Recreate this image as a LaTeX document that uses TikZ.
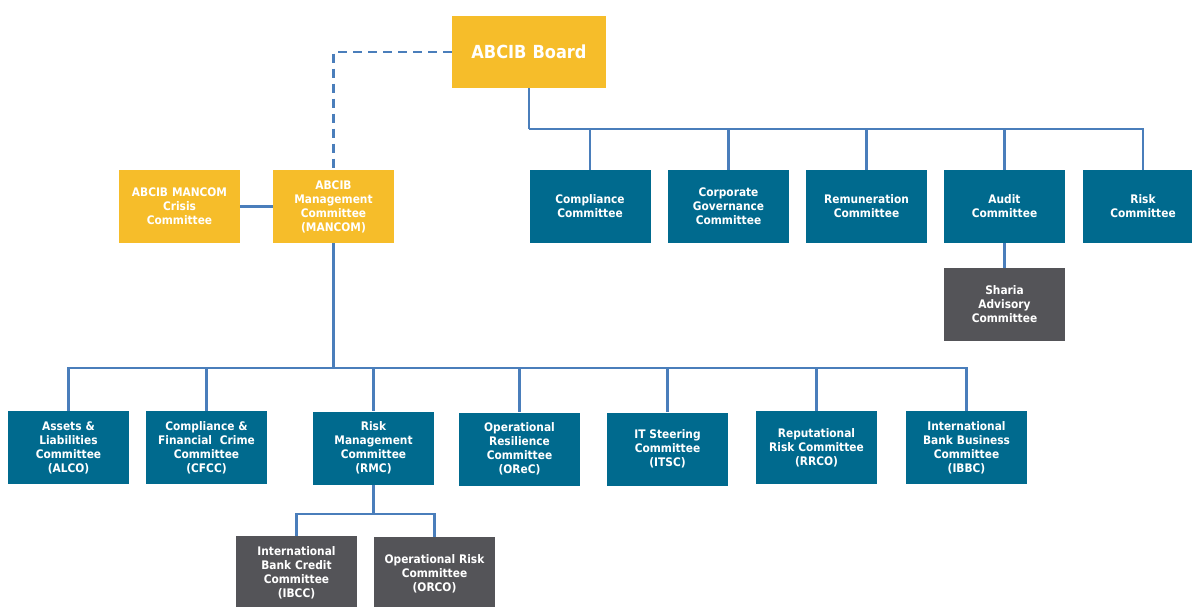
\documentclass[tikz,border=0pt]{standalone}
\usepackage{fontspec}
\setmainfont{DejaVu Sans Condensed}
\usepackage{xcolor}
\definecolor{boardGold}{HTML}{F6BD2A}
\definecolor{cttTeal}{HTML}{006A8E}
\definecolor{subGrey}{HTML}{545458}
\definecolor{linkBlue}{HTML}{4A7EBB}
\newcommand{\cttFont}{\fontsize{11.8}{14}\selectfont\bfseries}

\begin{document}
\begin{tikzpicture}[x=1pt,y=-1pt,
  cttbox/.style={fill=cttTeal, text=white, align=center, inner sep=1pt,
    minimum width=121pt, minimum height=73pt, text width=119pt, font=\cttFont},
  goldbox/.style={cttbox, fill=boardGold},
  greybox/.style={cttbox, fill=subGrey},
  link/.style={draw=linkBlue, line width=2.4pt},
  dashlink/.style={link, dash pattern=on 9pt off 6pt}]
\useasboundingbox (0,0) rectangle (1192,606);
% board and management
\node[goldbox, minimum width=154pt, minimum height=72pt, font={\fontsize{18}{20}\selectfont\bfseries}] (board) at (529,52) {ABCIB Board};
\node[goldbox] (crisis) at (179.5,206.5) {ABCIB MANCOM\\Crisis\\Committee};
\node[goldbox] (mancom) at (333.5,206.5) {ABCIB\\Management\\Committee\\(MANCOM)};
% board committees
\node[cttbox] (comp) at (590,206.5) {Compliance\\Committee};
\node[cttbox] (corpgov) at (728.5,206.5) {Corporate\\Governance\\Committee};
\node[cttbox] (remun) at (866.5,206.5) {Remuneration\\Committee};
\node[cttbox] (audit) at (1004.5,206.5) {Audit\\Committee};
\node[cttbox] (risk) at (1143,206.5) {Risk\\Committee};
\node[greybox] (sharia) at (1004.5,304.5) {Sharia\\Advisory\\Committee};
% management committees
\node[cttbox] (alco) at (68.5,447.5) {Assets \&\\Liabilities\\Committee\\(ALCO)};
\node[cttbox] (cfcc) at (206.5,447.5) {Compliance \&\\Financial\ \ Crime\\Committee\\(CFCC)};
\node[cttbox] (rmc) at (373.5,448) {Risk\\Management\\Committee\\(RMC)};
\node[cttbox] (orec) at (519.5,449) {Operational\\Resilience\\Committee\\(OReC)};
\node[cttbox] (itsc) at (667.5,449) {IT Steering\\Committee\\(ITSC)};
\node[cttbox] (rrco) at (816.5,447.5) {Reputational\\Risk Committee\\(RRCO)};
\node[cttbox] (ibbc) at (966.5,447.5) {International\\Bank Business\\Committee\\(IBBC)};
% risk sub-committees
\node[greybox] (ibcc) at (296.5,572.5) {International\\Bank Credit\\Committee\\(IBCC)};
\node[greybox] (orco) at (434.5,573.5) {Operational Risk\\Committee\\(ORCO)};
% connectors
\coordinate (topbus) at (529,129);
\coordinate (mgmtbus) at (333.5,368);
\coordinate (rmcbus) at (373.5,514);
\draw[dashlink] (board.west) -| (mancom.north);
\draw[link] (crisis) -- (mancom);
\draw[link] (board.south) -- (topbus);
\draw[link] (topbus) -| (comp.north);
\draw[link] (topbus) -| (corpgov.north);
\draw[link] (topbus) -| (remun.north);
\draw[link] (topbus) -| (audit.north);
\draw[link] (topbus) -| (risk.north);
\draw[link] (audit) -- (sharia);
\draw[link] (mancom.south) -- (mgmtbus);
\draw[link] (mgmtbus) -| (alco.north);
\draw[link] (mgmtbus) -| (cfcc.north);
\draw[link] (mgmtbus) -| (rmc.north);
\draw[link] (mgmtbus) -| (orec.north);
\draw[link] (mgmtbus) -| (itsc.north);
\draw[link] (mgmtbus) -| (rrco.north);
\draw[link] (mgmtbus) -| (ibbc.north);
\draw[link] (rmc.south) -- (rmcbus);
\draw[link] (rmcbus) -| (ibcc.north);
\draw[link] (rmcbus) -| (orco.north);
\end{tikzpicture}
\end{document}
